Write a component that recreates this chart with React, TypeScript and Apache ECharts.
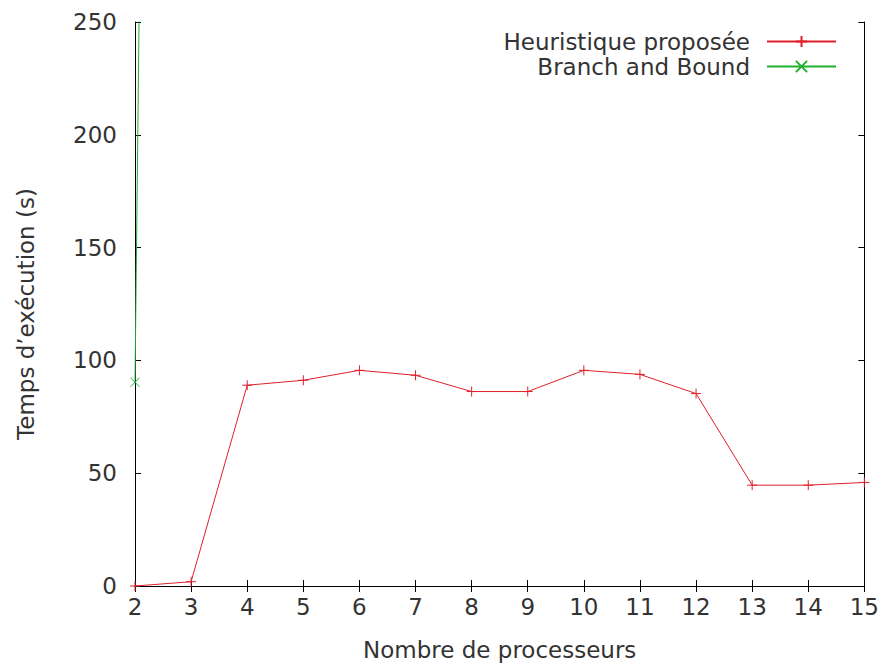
import React, { useEffect, useRef } from "react";
import * as echarts from "echarts";

const processors = [2, 3, 4, 5, 6, 7, 8, 9, 10, 11, 12, 13, 14, 15];
const heuristicTimes = [0, 1.9, 89, 91.2, 95.6, 93.4, 86.2, 86.2, 95.6, 93.8, 85.3, 44.7, 44.7, 45.9];
const bbProcessors = [2, 3];
const bbTimes = [90.3, 2300];
const yTicks = [0, 50, 100, 150, 200, 250];

const FONT = "DejaVu Sans";
const FS = 23;
const TXT = "#333";
const RED = "#e0202a";
const GREEN = "#22b030";

export default function App() {
  const ref = useRef<HTMLDivElement>(null);
  useEffect(() => {
    const chart = echarts.init(ref.current!, null, { renderer: "svg" });
    const tickCommon = { show: true, inside: true, length: 6, lineStyle: { color: "#000", width: 1 } };
    chart.setOption({
      animation: false,
      backgroundColor: "#fff",
      textStyle: { fontFamily: FONT },
      grid: { left: 135, right: 14, top: 22, bottom: 78 },
      legend: {
        orient: "vertical",
        align: "right",
        right: 40,
        top: 25,
        itemWidth: 69,
        itemHeight: 14,
        itemGap: 2,
        textStyle: { fontFamily: FONT, fontSize: FS, color: TXT, padding: [0, 12, 0, 0] },
        data: ["Heuristique proposée", "Branch and Bound"],
      },
      xAxis: [
        {
          type: "value",
          min: 2,
          max: 15,
          interval: 1,
          name: "Nombre de processeurs",
          nameLocation: "middle",
          nameGap: 52,
          nameTextStyle: { fontFamily: FONT, fontSize: FS, color: TXT },
          axisLine: { show: true, lineStyle: { color: "#000", width: 1 } },
          axisTick: tickCommon,
          axisLabel: { fontFamily: FONT, fontSize: FS, color: TXT, margin: 9 },
          splitLine: { show: false },
        },
        {
          type: "value",
          position: "top",
          min: 2,
          max: 15,
          interval: 1,
          axisLine: { show: true, lineStyle: { color: "#000", width: 1 } },
          axisTick: tickCommon,
          axisLabel: { show: false },
          splitLine: { show: false },
        },
      ],
      yAxis: [
        {
          type: "value",
          min: yTicks[0],
          max: yTicks[yTicks.length - 1],
          interval: yTicks[1] - yTicks[0],
          name: "Temps d’exécution (s)",
          nameLocation: "middle",
          nameGap: 98,
          nameTextStyle: { fontFamily: FONT, fontSize: FS, color: TXT, padding: [0, 20, 0, 0] },
          axisLine: { show: true, lineStyle: { color: "#000", width: 1 } },
          axisTick: tickCommon,
          axisLabel: { fontFamily: FONT, fontSize: FS, color: TXT, margin: 18 },
          splitLine: { show: false },
        },
        {
          type: "value",
          position: "right",
          min: yTicks[0],
          max: yTicks[yTicks.length - 1],
          interval: yTicks[1] - yTicks[0],
          axisLine: { show: true, lineStyle: { color: "#000", width: 1 } },
          axisTick: tickCommon,
          axisLabel: { show: false },
          splitLine: { show: false },
        },
      ],
      series: [
        {
          name: "Heuristique proposée",
          type: "line",
          data: processors.map((p, i) => [p, heuristicTimes[i]]),
          color: RED,
          lineStyle: { color: RED, width: 1 },
          symbol: "path://M0,5L10,5M5,0L5,10",
          symbolSize: 10,
          itemStyle: { color: RED, borderColor: RED, borderWidth: 1 },
          clip: true,
        },
        {
          name: "Branch and Bound",
          type: "line",
          data: bbProcessors.map((p, i) => [p, bbTimes[i]]),
          color: GREEN,
          lineStyle: { color: GREEN, width: 1 },
          symbol: "path://M0,0L10,10M0,10L10,0",
          symbolSize: 9,
          itemStyle: { color: GREEN, borderColor: GREEN, borderWidth: 1 },
          clip: true,
        },
      ],
    });
    return () => chart.dispose();
  }, []);
  return (
    <div
      ref={ref}
      style={{ position: "fixed", left: 0, top: 0, width: 882, height: 666 }}
    />
  );
}
